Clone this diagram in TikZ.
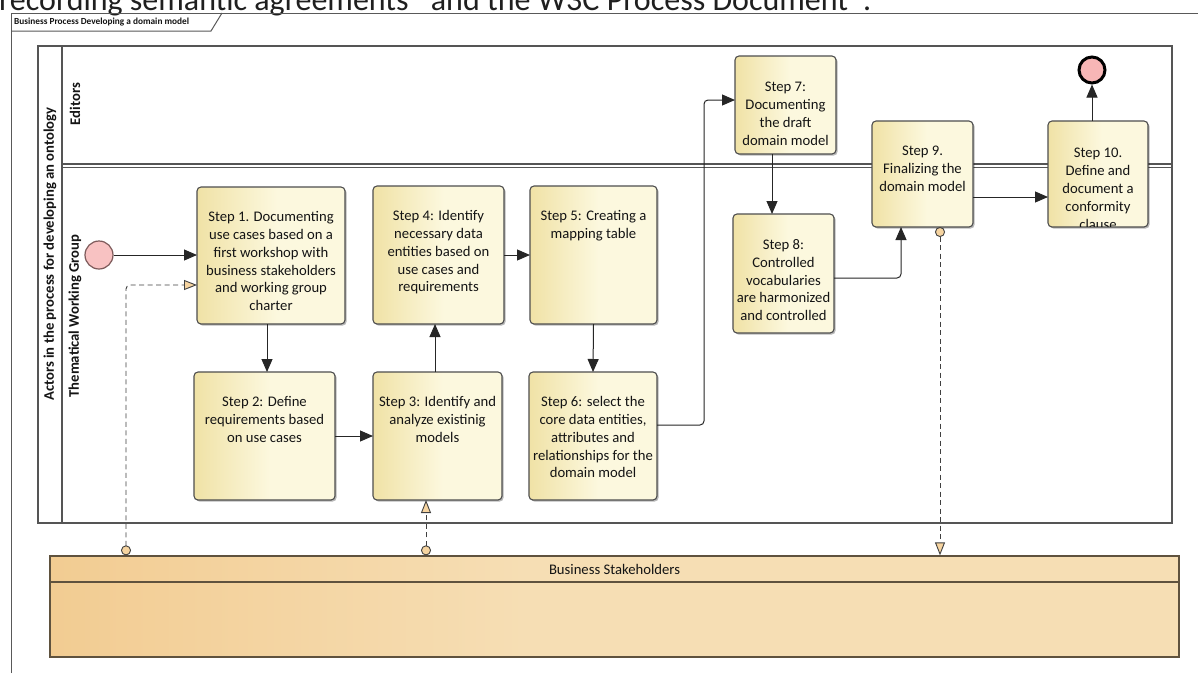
\documentclass[tikz,border=0pt]{standalone}
\usepackage{fontspec}
\setmainfont{Carlito}
\usetikzlibrary{arrows.meta,shadows,calc}

\definecolor{stepleft}{RGB}{240,226,166}
\definecolor{stepright}{RGB}{252,248,222}
\definecolor{stepborder}{RGB}{78,78,78}
\definecolor{poolline}{RGB}{85,85,85}
\definecolor{stakeleft}{RGB}{242,204,146}
\definecolor{stakeright}{RGB}{246,222,180}
\definecolor{stakeborder}{RGB}{95,82,62}
\definecolor{startfill}{RGB}{248,194,194}
\definecolor{startborder}{RGB}{125,90,90}
\definecolor{endfill}{RGB}{247,182,182}
\definecolor{tipfill}{RGB}{246,212,160}
\definecolor{textcol}{RGB}{20,20,20}

% left-to-right fades used by the activity boxes and the stakeholder pool
\pgfdeclarehorizontalshading{stepshade}{100bp}{color(0bp)=(stepleft); color(25bp)=(stepleft); color(52bp)=(stepright); color(100bp)=(stepright)}
\pgfdeclarehorizontalshading{stakeshade}{100bp}{color(0bp)=(stakeleft); color(25bp)=(stakeleft); color(46bp)=(stakeright); color(100bp)=(stakeright)}

\tikzset{
  x=1pt, y=-1pt,
  stepbox/.style={draw=stepborder, line width=1.1pt, rounded corners=4pt,
    shade, shading=stepshade, inner sep=0pt, outer sep=0pt,
    drop shadow={shadow xshift=1.6pt, shadow yshift=-1.6pt, fill=black, opacity=0.28}},
  steptext/.style={font=\fontsize{14.67}{17.9}\selectfont, align=center,
    text=textcol, inner sep=0pt, anchor=north},
  lanelabel/.style={font=\bfseries\fontsize{14.67}{17.9}\selectfont, text=textcol,
    inner sep=0pt, rotate=90},
  poolline/.style={draw=poolline, line width=1.4pt},
  flow/.style={draw=black!85, line width=1pt, rounded corners=4pt,
    -{Triangle[length=13pt,width=11pt]}},
  assoc/.style={draw=black!75, line width=0.9pt, rounded corners=4pt,
    dash pattern=on 5pt off 3.5pt,
    {Circle[length=10pt,width=10pt,fill=tipfill]}-{Triangle[length=13pt,width=10pt,fill=tipfill]}},
}

% activity box: name, left, top, right, bottom, text offset, text (text kept inside the box)
\newcommand\activity[7]{%
  \pgfmathsetmacro\acx{(#2+#4)/2}\pgfmathsetmacro\acy{(#3+#5)/2}%
  \pgfmathsetmacro\acw{#4-#2}\pgfmathsetmacro\ach{#5-#3}%
  \node[stepbox, minimum width=\acw pt, minimum height=\ach pt] (#1) at (\acx,\acy) {};
  \begin{scope}
    \clip (#2,#3) rectangle (#4,#5-1);
    \node[steptext] (#1-text) at ([yshift=-#6pt]#1.north) {#7};
  \end{scope}}

\begin{document}
\begin{tikzpicture}
\useasboundingbox[fill=white] (0,0) rectangle (1198,673);

% heading line of the surrounding page, cut by the upper edge
\node[anchor=base west, inner sep=0pt, font=\fontsize{32}{38}\selectfont, text=black!88]
  (pagetext) at (-1,10) {recording semantic agreements\hspace{15pt} and the W3C Process Document\hspace{15pt}.};

% diagram frame with its title tab
\draw[draw=black!65, line width=1pt] (11,673) -- (11,13) -- (1198,13);
\draw[draw=black!65, line width=1pt] (11,31) -- (211,31) -- (222,13);
\node[anchor=west, inner sep=0pt, font=\bfseries\fontsize{9.3}{11}\selectfont, text=textcol]
  (frametitle) at (14,22) {Business Process Developing a domain model};

% pool with two lanes
\draw[poolline] (38,46) rectangle (1172,523);
\draw[poolline] (62,46) -- (62,523);
\draw[poolline] (62,164) -- (1172,164);
\draw[poolline] (62,167.5) -- (1172,167.5);
\node[lanelabel] (pooltitle) at (50,254) {Actors in the process for developing an ontology};
\node[lanelabel] (editors) at (75,104) {Editors};
\node[lanelabel] (twg) at (75,316) {Thematical Working Group};

% external participant
\node[draw=stakeborder, line width=1.3pt, shade, shading=stakeshade,
  minimum width=1129pt, minimum height=101pt, inner sep=0pt] (stake) at (614.5,606.5) {};
\draw[draw=stakeborder, line width=1.3pt] (stake.west |- 0,582) -- (stake.east |- 0,582);
\node[font=\fontsize{14.67}{17.9}\selectfont, text=textcol, inner sep=0pt]
  (staketitle) at (614.5,569) {Business Stakeholders};

% activities
\activity{s1}{197}{187}{345}{324}{24}{Step 1. Documenting\\use cases based on a\\first workshop with\\business stakeholders\\and working group\\charter}
\activity{s2}{194}{372}{335}{500}{24}{Step 2: Define\\requirements based\\on use cases}
\activity{s3}{373}{372}{502}{500}{24}{Step 3: Identify and\\analyze existinig\\models}
\activity{s4}{373}{186}{504}{324}{24}{Step 4: Identify\\necessary data\\entities based on\\use cases and\\requirements}
\activity{s5}{530}{186}{657}{324}{24}{Step 5: Creating a\\mapping table}
\activity{s6}{529}{372}{657}{500}{24}{Step 6: select the\\core data entities,\\attributes and\\relationships for the\\domain model}
\activity{s7}{735}{56}{836}{154}{26}{Step 7:\\Documenting\\the draft\\domain model}
\activity{s8}{733}{214}{834}{333}{25}{Step 8:\\Controlled\\vocabularies\\are harmonized\\and controlled}
\activity{s9}{872}{121}{973}{227}{25}{Step 9.\\Finalizing the\\domain model}
\activity{s10}{1048}{121}{1148}{227}{27}{Step 10.\\Define and\\document a\\conformity\\clause}

% events
\node[circle, draw=startborder, fill=startfill, line width=1.2pt, minimum size=28pt, inner sep=0pt] (start) at (99,255) {};
\node[circle, draw=black, fill=endfill, line width=3pt, minimum size=26pt, inner sep=0pt] (end) at (1092,70) {};

\coordinate (bend67) at (704,100);

% sequence flows
\draw[flow] (start) -- (start -| s1.west);
\draw[flow] ([xshift=-4pt]s1.south) -- ([xshift=2.5pt]s2.north);
\draw[flow] (s2.east) -- (s3.west);
\draw[flow] ([xshift=-2.5pt]s3.north) -- ([xshift=-3.5pt]s4.south);
\draw[flow] (s4.east) -- (s5.west);
\draw[flow] (s5.south) -- (s6.north);
\draw[flow] ([yshift=11pt]s6.east) -| (bend67) -- ([yshift=5pt]s7.west);
\draw[flow] ([xshift=-13.5pt]s7.south) -- ([xshift=-11.5pt]s8.north);
\draw[flow] ([yshift=-4.5pt]s8.east) -| ([xshift=-21.5pt]s9.south);
\draw[flow] ([yshift=-23pt]s9.east) -- ([yshift=-23pt]s10.west);
\draw[flow] (end |- s10.north) -- (end);

% associations with the stakeholders
\draw[assoc] ([xshift=-488.5pt]stake.north) |- ([yshift=-29.5pt]s1.west);
\draw[assoc] ([xshift=-188.5pt]stake.north) -- ([xshift=-11.5pt]s3.south);
\draw[assoc] ([xshift=17.5pt]s9.south) -- ([xshift=325.5pt]stake.north);
\end{tikzpicture}
\end{document}
